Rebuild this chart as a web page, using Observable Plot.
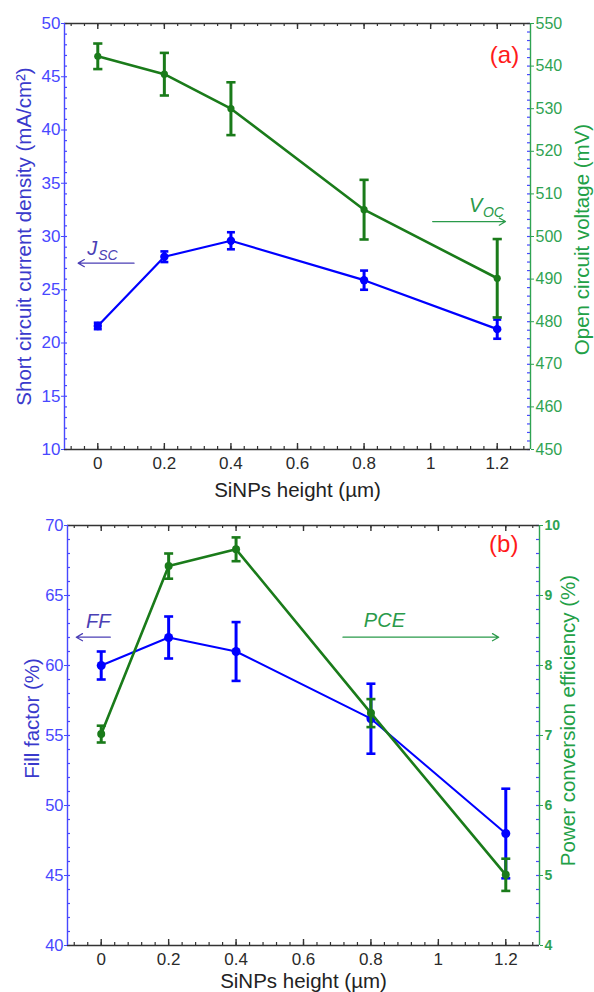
<!DOCTYPE html>
<html>
<head>
<meta charset="utf-8">
<script src="https://cdn.jsdelivr.net/npm/d3@7"></script>
<script src="https://cdn.jsdelivr.net/npm/@observablehq/plot@0.6"></script>
<style>
  body { margin: 0; background: #fff; }
  #chart { width: 594px; }
  #chart svg { display: block; }
</style>
</head>
<body>
<div id="chart"></div>
<script>
// ---- data ----
const heights = [0, 0.2, 0.4, 0.8, 1.2];          // SiNPs height (µm)
const jsc     = [21.6, 28.1, 29.6, 25.9, 21.3];   // mA/cm²
const jscErr  = [0.3, 0.5, 0.8, 0.9, 0.9];
const voc     = [542.3, 538.1, 530.0, 506.3, 490.2]; // mV
const vocErr  = [3.0, 5.0, 6.2, 7.0, 9.2];
const ff      = [60.0, 62.0, 61.0, 56.2, 48.0];   // %
const ffErr   = [1.0, 1.5, 2.1, 2.5, 3.2];
const pce     = [7.02, 9.42, 9.66, 7.32, 5.01];   // %
const pceErr  = [0.12, 0.18, 0.17, 0.20, 0.23];

const xTicks   = [0, 0.2, 0.4, 0.6, 0.8, 1, 1.2];
const jscTicks = [10, 15, 20, 25, 30, 35, 40, 45, 50];
const vocTicks = [450, 460, 470, 480, 490, 500, 510, 520, 530, 540, 550];
const ffTicks  = [40, 45, 50, 55, 60, 65, 70];
const pceTicks = [4, 5, 6, 7, 8, 9, 10];

const xTitle   = "SiNPs height (µm)";
const jscTitle = "Short circuit current density (mA/cm²)";
const vocTitle = "Open circuit voltage (mV)";
const ffTitle  = "Fill factor (%)";
const pceTitle = "Power conversion efficiency (%)";

// annotations (data coordinates, left-axis units)
const annA = {
  tag: {x: 1.222, y: 47.0, text: "(a)"},
  jsc: {x: -0.032, y: 28.9, main: "J", sub: "SC", ax1: 0.109, ax2: -0.059, ay: 27.5},
  voc: {x: 1.115, y: 32.94, main: "V", sub: "OC", ax1: 1.006, ax2: 1.225, ay: 31.4}
};
const annB = {
  tag: {x: 1.194, y: 68.64, text: "(b)"},
  ff:  {x: -0.009, y: 63.11, text: "FF", ax1: 0.027, ax2: -0.074, ay: 62.02},
  pce: {x: 0.84, y: 63.18, text: "PCE", ax1: 0.717, ax2: 1.179, ay: 62.02}
};

// ---- styling ----
const FONT = "'Liberation Sans', Arial, Helvetica, sans-serif";
const BLUE = "#0000ff", GREEN = "#1a7b1a";
const AXBLUE = "#4848ff", AXGREEN = "#2fa352";
const TBLUE = "#3a3acc", TGREEN = "#22a046";
const ANNBLUE = "#4b3fb5", ANNGREEN = "#2a9a4a";

const capSymbol = {
  draw(ctx, size) {
    const w = Math.sqrt(size / Math.PI);
    ctx.moveTo(-w, 0);
    ctx.lineTo(w, 0);
  }
};
const fmtX = d => String(+d.toFixed(2));

function seriesMarks(data, color, opts) {
  return [
    Plot.line(data, {x: d => d.x, y: d => d.y, stroke: color, strokeWidth: opts.lw}),
    Plot.ruleX(data, {x: d => d.x, y1: d => d.lo, y2: d => d.hi, stroke: color, strokeWidth: 3}),
    Plot.dot(data, {x: d => d.x, y: d => d.hi, symbol: capSymbol, r: opts.cap, stroke: color, strokeWidth: 2.6}),
    Plot.dot(data, {x: d => d.x, y: d => d.lo, symbol: capSymbol, r: opts.cap, stroke: color, strokeWidth: 2.6}),
    Plot.dot(data, {x: d => d.x, y: d => d.y, r: opts.r, fill: color, stroke: "none"})
  ];
}

function panel(cfg) {
  const W = 594;
  const {height, mt, mr, mb, ml, yDomain, rDomain, leftV, leftE, rightV, rightE,
         leftTicks, rightTicks, leftMinorStep, rightMinorStep, fs} = cfg;
  const innerW = W - ml - mr, innerH = height - mt - mb;
  const toL = d3.scaleLinear().domain(rDomain).range(yDomain);
  const L = heights.map((x, i) => ({x, y: leftV[i], lo: leftV[i] - leftE[i], hi: leftV[i] + leftE[i]}));
  const R = heights.map((x, i) => ({x, y: toL(rightV[i]), lo: toL(rightV[i] - rightE[i]), hi: toL(rightV[i] + rightE[i])}));
  const xMinor = d3.range(-0.08, 1.29, 0.04);
  const lMinor = d3.range(yDomain[0], yDomain[1] + 1e-6, leftMinorStep);
  const rMinor = d3.range(rDomain[0], rDomain[1] + 1e-6, rightMinorStep).map(toL);
  const rFmt = d => String(Math.round(toL.invert(d) * 100) / 100);

  return Plot.plot({
    width: W, height,
    marginTop: mt, marginRight: mr, marginBottom: mb, marginLeft: ml,
    style: {fontFamily: FONT, fontSize: "17px", background: "#fff", overflow: "visible"},
    x: {domain: [-0.1, 1.3]},
    y: {domain: yDomain},
    marks: [
      // frame ticks (inward)
      Plot.tickX(xMinor, {x: d => d, insetTop: innerH - 3, stroke: "#333", strokeWidth: 1.2}),
      Plot.tickX(xTicks, {x: d => d, insetTop: innerH - 6, stroke: "#333", strokeWidth: 1.4}),
      Plot.tickX(xMinor, {x: d => d, insetBottom: innerH - 3, stroke: "#333", strokeWidth: 1.2}),
      Plot.tickX(xTicks, {x: d => d, insetBottom: innerH - 6, stroke: "#333", strokeWidth: 1.4}),
      Plot.tickY(lMinor, {y: d => d, insetRight: innerW - 3, stroke: AXBLUE, strokeWidth: 1.2}),
      Plot.tickY(rMinor, {y: d => d, insetLeft: innerW - 3, stroke: AXBLUE, strokeWidth: 1.2}),
      // frame lines
      Plot.ruleY([yDomain[1]], {y: d => d, stroke: "#333", strokeWidth: 1.4}),
      Plot.ruleY([yDomain[0]], {y: d => d, stroke: "#333", strokeWidth: 1.4}),
      Plot.ruleX([-0.1], {x: d => d, stroke: AXBLUE, strokeWidth: 1.4}),
      Plot.ruleX([1.3], {x: d => d, stroke: AXGREEN, strokeWidth: 1.4}),
      // axes
      Plot.axisX(xTicks, {anchor: "bottom", tickSize: 0, tickPadding: 7, tickFormat: fmtX,
        fontSize: fs.x, color: "#2a2a2a", label: null}),
      Plot.axisY(leftTicks, {anchor: "left", tickSize: 3, tickPadding: 1, tickFormat: d => String(d),
        fontSize: fs.l, color: AXBLUE, label: null}),
      Plot.axisY(rightTicks.map(toL), {anchor: "right", tickSize: 3, tickPadding: 2, tickFormat: rFmt,
        fontSize: fs.r, fontWeight: fs.rw || "normal", color: AXGREEN, label: null}),
      // titles
      Plot.text([xTitle], {text: d => d, frameAnchor: "bottom", lineAnchor: "middle", textAnchor: "middle",
        dy: cfg.xTitleDy, fontSize: 20.5, fill: "#222"}),
      Plot.text([cfg.leftTitle], {text: d => d, frameAnchor: "left", textAnchor: "middle", lineAnchor: "middle",
        dx: cfg.lTitleDx, dy: cfg.lTitleDy, rotate: -90, fontSize: 20.5, fill: TBLUE}),
      Plot.text([cfg.rightTitle], {text: d => d, frameAnchor: "right", textAnchor: "middle", lineAnchor: "middle",
        dx: cfg.rTitleDx, dy: cfg.rTitleDy, rotate: -90, fontSize: 20.5, fill: TGREEN}),
      // data
      ...seriesMarks(L, BLUE, cfg.lStyle),
      ...seriesMarks(R, GREEN, cfg.rStyle),
      // annotations
      ...cfg.ann
    ]
  });
}

const annotationsA = [
  Plot.text([annA.tag], {x: "x", y: "y", text: "text", fill: "#ff1a1a", fontSize: 24}),
  Plot.text([annA.jsc], {x: "x", y: "y", text: "main", textAnchor: "start", fontStyle: "italic", fontSize: 20, fill: ANNBLUE}),
  Plot.text([annA.jsc], {x: "x", y: "y", text: "sub", textAnchor: "start", dx: 11, dy: 7, fontStyle: "italic", fontSize: 14, fill: ANNBLUE}),
  Plot.arrow([annA.jsc], {x1: "ax1", x2: "ax2", y1: "ay", y2: "ay", stroke: ANNBLUE, strokeWidth: 1.2, headLength: 9}),
  Plot.text([annA.voc], {x: "x", y: "y", text: "main", textAnchor: "start", fontStyle: "italic", fontSize: 20, fill: ANNGREEN}),
  Plot.text([annA.voc], {x: "x", y: "y", text: "sub", textAnchor: "start", dx: 14, dy: 7, fontStyle: "italic", fontSize: 14, fill: ANNGREEN}),
  Plot.arrow([annA.voc], {x1: "ax1", x2: "ax2", y1: "ay", y2: "ay", stroke: ANNGREEN, strokeWidth: 1.2, headLength: 9})
];
const annotationsB = [
  Plot.text([annB.tag], {x: "x", y: "y", text: "text", fill: "#ff1a1a", fontSize: 24}),
  Plot.text([annB.ff], {x: "x", y: "y", text: "text", fontStyle: "italic", fontSize: 20, fill: ANNBLUE}),
  Plot.arrow([annB.ff], {x1: "ax1", x2: "ax2", y1: "ay", y2: "ay", stroke: ANNBLUE, strokeWidth: 1.2, headLength: 9}),
  Plot.text([annB.pce], {x: "x", y: "y", text: "text", fontStyle: "italic", fontSize: 20, fill: ANNGREEN}),
  Plot.arrow([annB.pce], {x1: "ax1", x2: "ax2", y1: "ay", y2: "ay", stroke: ANNGREEN, strokeWidth: 1.2, headLength: 9})
];

const chartA = panel({
  height: 505, mt: 23, mr: 64, mb: 56, ml: 64,
  yDomain: [10, 50], rDomain: [450, 550],
  leftV: jsc, leftE: jscErr, rightV: voc, rightE: vocErr,
  leftTicks: jscTicks, rightTicks: vocTicks, leftMinorStep: 1, rightMinorStep: 2,
  fs: {x: 17, l: 17, r: 16},
  leftTitle: jscTitle, rightTitle: vocTitle,
  xTitleDy: 41, lTitleDx: -40, lTitleDy: 0, rTitleDx: 52, rTitleDy: 3,
  lStyle: {lw: 2.2, r: 4.2, cap: 4},
  rStyle: {lw: 2.6, r: 3.6, cap: 4.6},
  ann: annotationsA
});

const chartB = panel({
  height: 487, mt: 20, mr: 55, mb: 47, ml: 67,
  yDomain: [40, 70], rDomain: [4, 10],
  leftV: ff, leftE: ffErr, rightV: pce, rightE: pceErr,
  leftTicks: ffTicks, rightTicks: pceTicks, leftMinorStep: 1, rightMinorStep: 0.2,
  fs: {x: 17, l: 16.5, r: 14, rw: "bold"},
  leftTitle: ffTitle, rightTitle: pceTitle,
  xTitleDy: 36, lTitleDx: -35, lTitleDy: -17, rTitleDx: 29, rTitleDy: -15,
  lStyle: {lw: 2, r: 4.5, cap: 4.5},
  rStyle: {lw: 2.6, r: 4, cap: 4.5},
  ann: annotationsB
});

const root = document.getElementById("chart");
root.appendChild(chartA);
root.appendChild(chartB);
</script>
</body>
</html>
